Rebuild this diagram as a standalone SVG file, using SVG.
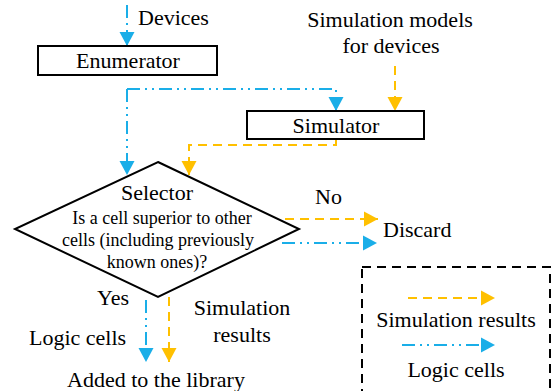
<svg xmlns="http://www.w3.org/2000/svg" width="553" height="391" viewBox="0 0 553 391">
  <style>
    .box { fill: #ffffff; stroke: #000000; stroke-width: 2; }
    .lbl { font-family: "Liberation Serif", "Times New Roman", serif; fill: #000000; }
    .big { font-size: 22px; }
    .small { font-size: 18px; }
    .cells { fill: none; stroke: #1aaee8; stroke-width: 2; stroke-dasharray: 13 5 2 5 2 5; }
    .sims { fill: none; stroke: #ffc000; stroke-width: 2; stroke-dasharray: 9 6; }
    .legend-frame { fill: none; stroke: #000000; stroke-width: 2; stroke-dasharray: 9 6; }
  </style>
  <defs>
    <marker id="arrowBlue" markerUnits="userSpaceOnUse" markerWidth="16" markerHeight="16" viewBox="0 0 16 16" refX="15" refY="8" orient="auto">
      <path d="M1,0.5 L15,8 L1,15.5 Z" fill="#1aaee8"/>
    </marker>
    <marker id="arrowOrange" markerUnits="userSpaceOnUse" markerWidth="16" markerHeight="16" viewBox="0 0 16 16" refX="15" refY="8" orient="auto">
      <path d="M1,0.5 L15,8 L1,15.5 Z" fill="#ffc000"/>
    </marker>
  </defs>

  <!-- connectors: blue dash-dot-dot = logic cells, orange dashed = simulation results -->
  <g id="connectors">
    <path class="cells" d="M127,5 V46" marker-end="url(#arrowBlue)"/>
    <path class="cells" d="M127,89 H336 V111" marker-end="url(#arrowBlue)"/>
    <path class="cells" d="M127,89 V175" marker-end="url(#arrowBlue)"/>
    <path class="sims" d="M395,66 V111" marker-end="url(#arrowOrange)"/>
    <path class="sims" d="M336,139 V145 H189 V175" marker-end="url(#arrowOrange)"/>
    <path class="sims" d="M285,219 H378" marker-end="url(#arrowOrange)"/>
    <path class="cells" d="M282,243 H377" marker-end="url(#arrowBlue)"/>
    <path class="cells" d="M146,300 V362" marker-end="url(#arrowBlue)"/>
    <path class="sims" d="M169,297 V362" marker-end="url(#arrowOrange)"/>
  </g>

  <!-- inputs -->
  <g id="devices">
    <text class="lbl big" x="138" y="25">Devices</text>
  </g>
  <g id="models">
    <text class="lbl big" x="390" y="27" text-anchor="middle">Simulation models</text>
    <text class="lbl big" x="391" y="53" text-anchor="middle">for devices</text>
  </g>

  <!-- processing blocks -->
  <g id="enumerator">
    <rect class="box" x="38" y="46" width="179" height="29"/>
    <text class="lbl big" x="128" y="68" text-anchor="middle">Enumerator</text>
  </g>
  <g id="simulator">
    <rect class="box" x="247" y="111" width="177" height="28"/>
    <text class="lbl big" x="336" y="133" text-anchor="middle">Simulator</text>
  </g>

  <!-- decision -->
  <g id="selector">
    <polygon class="box" points="158,162 299,229 158,297 15,229"/>
    <text class="lbl big" x="157" y="200" text-anchor="middle">Selector</text>
    <text class="lbl small" x="162" y="224" text-anchor="middle">Is a cell superior to other</text>
    <text class="lbl small" x="158" y="246" text-anchor="middle">cells (including previously</text>
    <text class="lbl small" x="157" y="268" text-anchor="middle">known ones)?</text>
  </g>

  <g id="discard">
    <text class="lbl big" x="315" y="204">No</text>
    <text class="lbl big" x="383" y="237">Discard</text>
  </g>

  <g id="library">
    <text class="lbl big" x="97" y="305">Yes</text>
    <text class="lbl big" x="29" y="345">Logic cells</text>
    <text class="lbl big" x="242" y="315" text-anchor="middle">Simulation</text>
    <text class="lbl big" x="242" y="342" text-anchor="middle">results</text>
    <text class="lbl big" x="156" y="387" text-anchor="middle">Added to the library</text>
  </g>

  <!-- legend -->
  <g id="legend">
    <rect class="legend-frame" x="362" y="267" width="188" height="140"/>
    <path class="sims" d="M408,298 H495" marker-end="url(#arrowOrange)"/>
    <text class="lbl big" x="456" y="327" text-anchor="middle">Simulation results</text>
    <path class="cells" d="M402,345 H495" marker-end="url(#arrowBlue)"/>
    <text class="lbl big" x="456" y="377" text-anchor="middle">Logic cells</text>
  </g>
</svg>
